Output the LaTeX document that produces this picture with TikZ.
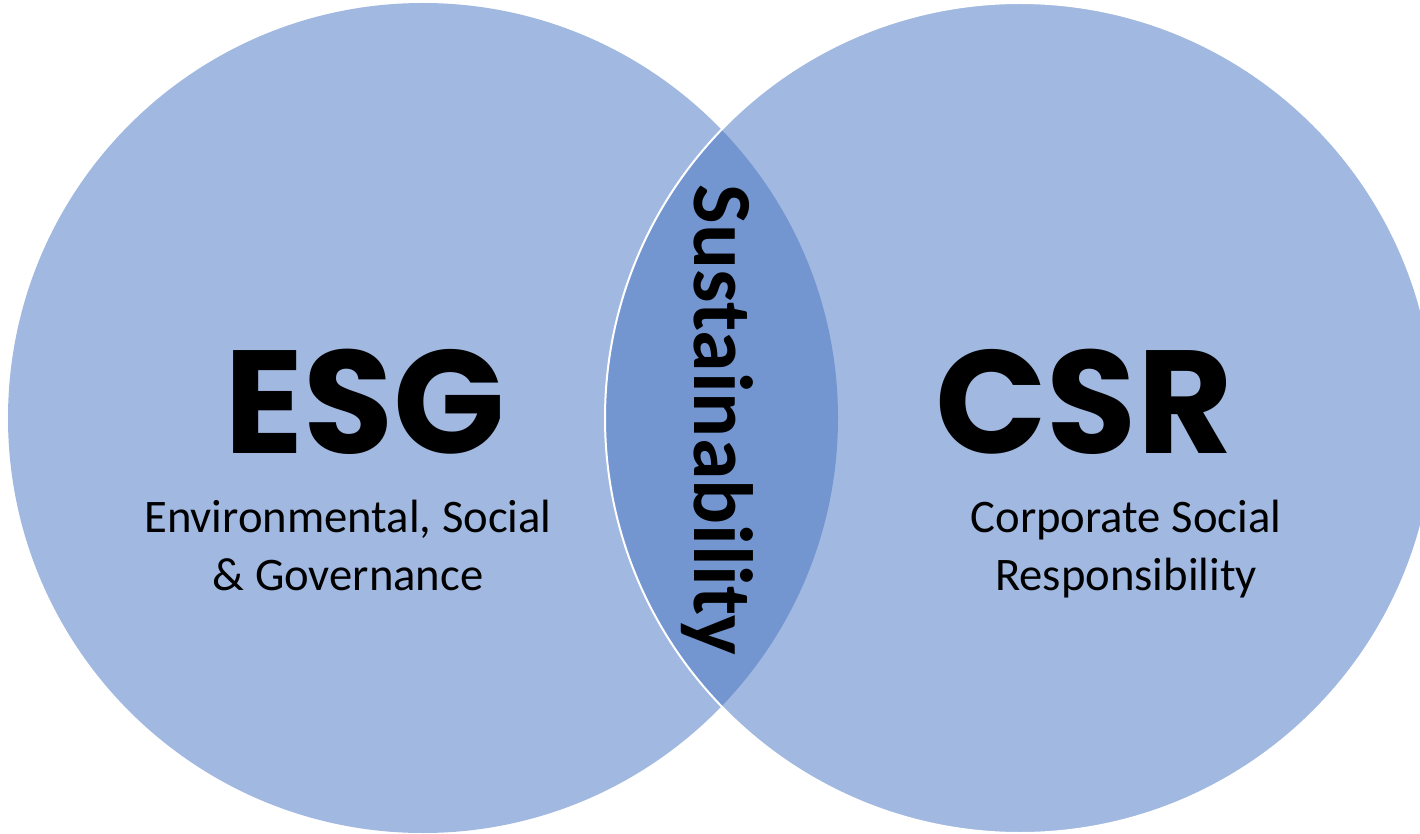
\documentclass[tikz,border=0pt]{standalone}
\usepackage{fontspec}
\setmainfont{Carlito}
\newfontfamily\heavyfont{Poppins}
\usepackage{tikz}

\definecolor{circlefill}{HTML}{A1B8E0}
\definecolor{lensfill}{HTML}{7395D0}

\begin{document}
\begin{tikzpicture}[x=0.75pt,y=-0.75pt]
\tikzstyle{every node}+=[inner sep=0pt]
\tikzstyle{bigtitle}=[anchor=base,font=\heavyfont\bfseries\fontsize{110}{130}\selectfont]
\tikzstyle{subtitle}=[anchor=base,align=center,font=\fontsize{35}{43}\selectfont]
\useasboundingbox (0,0) rectangle (1420,834);
% two circles and their overlap
\fill [circlefill] (423,418) circle (415);
\fill [circlefill] (1020,418) circle (415);
\begin{scope}
\clip (423,418) circle (415);
\fill [lensfill] (1020,418) circle (415);
\end{scope}
\draw [white,line width=1.5pt] (1020,418) circle (415);
% labels
\node [bigtitle] (esg) at (365,453) {ESG};
\node [subtitle] (esgtext) at (348,590) {Environmental, Social\\\& Governance};
\node [bigtitle] (csr) at (1084,453) {CSR};
\node [subtitle] (csrtext) at (1126,590) {Corporate Social\\Responsibility};
\node [anchor=base,rotate=-90,font=\bfseries\fontsize{63}{70}\selectfont] (sust) at (694,420) {Sustainability};
\end{tikzpicture}
\end{document}
